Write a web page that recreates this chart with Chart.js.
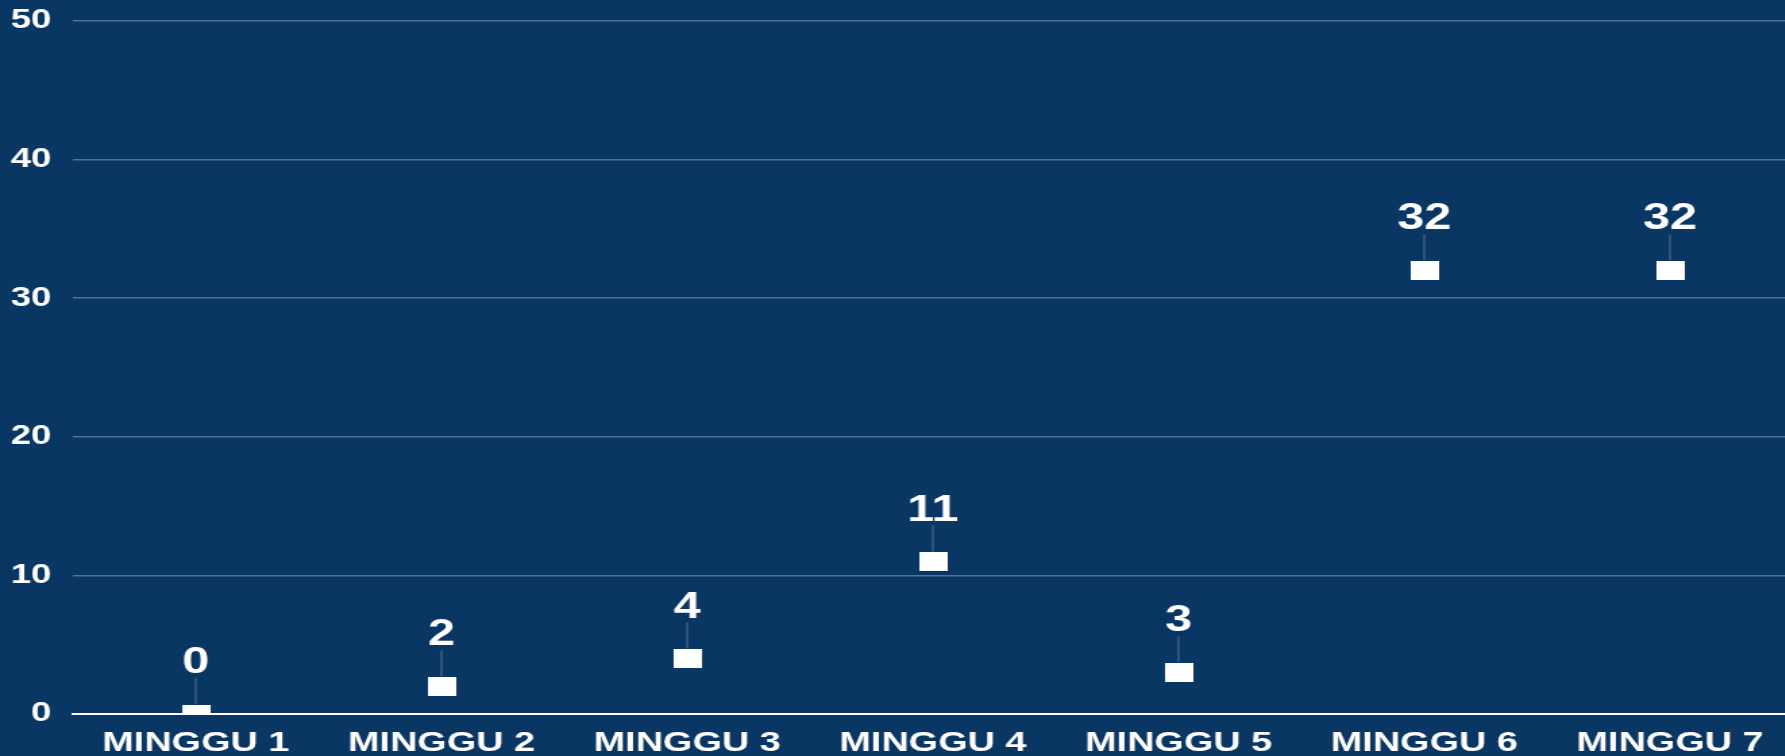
<!DOCTYPE html>
<html>
<head>
<meta charset="utf-8">
<script src="https://cdn.jsdelivr.net/npm/chart.js@4/dist/chart.umd.min.js"></script>
<style>
  html, body { margin: 0; padding: 0; background: #093662; overflow: hidden; }
  /* gambar asli terlihat melebar secara horizontal dan terpotong di kanan */
  #wrap { width: 1339px; height: 756px; transform: scaleX(1.35); transform-origin: 0 0; }
</style>
</head>
<body>
<div id="wrap"><canvas id="weekChart"></canvas></div>
<script>
// data per minggu
const minggu = ['MINGGU 1', 'MINGGU 2', 'MINGGU 3', 'MINGGU 4', 'MINGGU 5', 'MINGGU 6', 'MINGGU 7'];
const jumlah = [0, 2, 4, 11, 3, 32, 32];
const yTicks = [0, 10, 20, 30, 40, 50];

// penanda kotak putih (lebih lebar dari tinggi)
const marker = document.createElement('canvas');
marker.width = 21;
marker.height = 19;
const mctx = marker.getContext('2d');
mctx.fillStyle = '#ffffff';
mctx.fillRect(0, 0, marker.width, marker.height);

// label angka di atas titik + garis penghubung
const labelPlugin = {
    id: 'labelAtas',
    afterDatasetsDraw(chart) {
        const ctx = chart.ctx;
        const meta = chart.getDatasetMeta(0);
        ctx.save();
        meta.data.forEach((pt, i) => {
            ctx.strokeStyle = 'rgba(255,255,255,0.2)';
            ctx.lineWidth = 1.5;
            ctx.beginPath();
            ctx.moveTo(pt.x, pt.y - 10);
            ctx.lineTo(pt.x, pt.y - 36);
            ctx.stroke();
            ctx.fillStyle = '#ffffff';
            ctx.font = 'bold 36px "Liberation Sans", Arial, sans-serif';
            ctx.textAlign = 'center';
            ctx.textBaseline = 'alphabetic';
            ctx.fillText(String(jumlah[i]), pt.x, pt.y - 41);
        });
        ctx.restore();
    }
};

const ctx = document.getElementById('weekChart').getContext('2d');
const weekChart = new Chart(ctx, {
    type: 'line',
    data: {
        labels: minggu,
        datasets: [{
            data: jumlah,
            showLine: false,
            pointStyle: marker,
            pointRadius: 10,
            pointHoverRadius: 10,
            clip: 0
        }]
    },
    options: {
        responsive: true,
        maintainAspectRatio: false,
        animation: false,
        layout: { padding: { top: 21, left: 8, right: 0, bottom: 0 } },
        plugins: {
            legend: { display: false },
            tooltip: { enabled: false }
        },
        scales: {
            x: {
                offset: true,
                grid: { display: false, drawTicks: false },
                border: { display: true, color: '#ffffff', width: 2 },
                ticks: {
                    color: '#ffffff',
                    padding: 12,
                    maxRotation: 0,
                    font: { family: '"Liberation Sans", Arial, sans-serif', size: 28, weight: 'bold' }
                },
                afterFit: (axis) => {
                    axis.paddingLeft = 0;
                    axis.paddingRight = 0;
                    axis.height = 42;
                }
            },
            y: {
                min: yTicks[0],
                max: yTicks[yTicks.length - 1],
                afterBuildTicks: (axis) => { axis.ticks = yTicks.map(v => ({ value: v })); },
                grid: {
                    color: 'rgba(255,255,255,0.3)',
                    lineWidth: 1.5,
                    drawTicks: false
                },
                border: { display: false },
                ticks: {
                    color: '#ffffff',
                    padding: 16,
                    font: { family: '"Liberation Sans", Arial, sans-serif', size: 27, weight: 'bold' }
                },
                afterFit: (axis) => {
                    axis.paddingTop = 0;
                    axis.paddingBottom = 0;
                    axis.width = 46;
                }
            }
        }
    },
    plugins: [labelPlugin]
});
</script>
</body>
</html>
